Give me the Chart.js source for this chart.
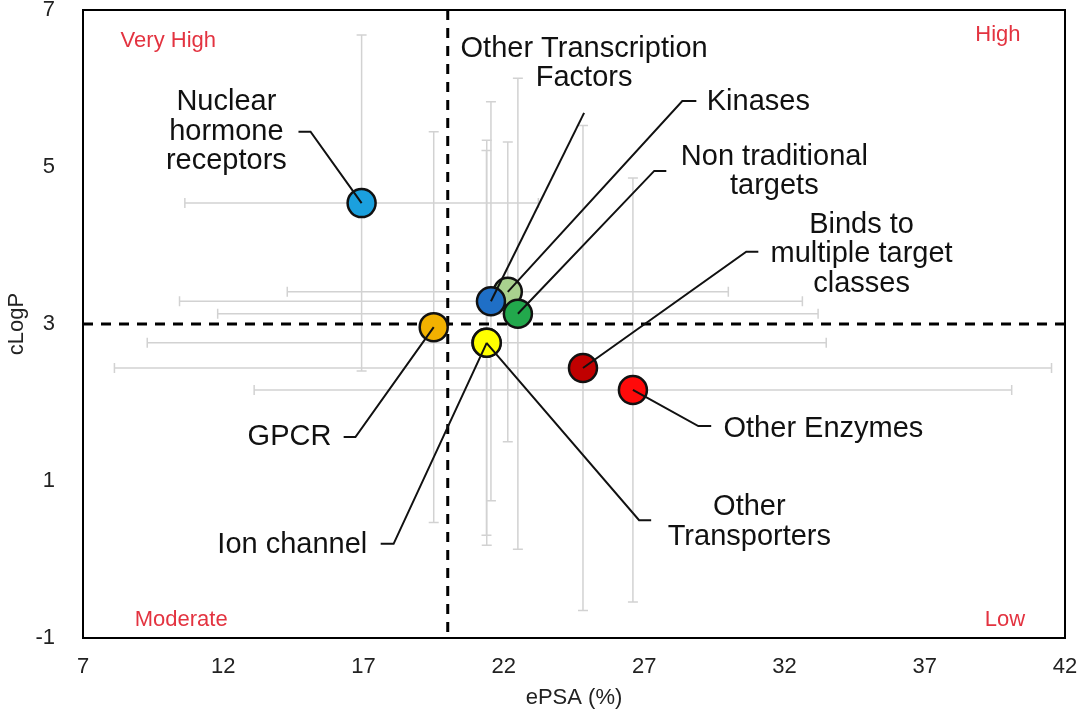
<!DOCTYPE html>
<html>

<head>
    <meta charset="utf-8" />
    <style>
        body { margin: 0; background: #fff; }
        #wrap { position: relative; width: 1080px; height: 715px; }
    </style>
</head>

<body>
    <div id="wrap"><canvas id="psaChart" width="1080" height="715"></canvas></div>

    <script src="https://cdn.jsdelivr.net/npm/chart.js@4.4.1/dist/chart.umd.min.js"></script>

    <script>
        // target classes, drawn in this order (later ones sit on top)
        let categories = ["Nuclear hormone receptors", "GPCR", "Kinases", "Other Transcription Factors",
            "Non traditional targets", "Binds to multiple target classes", "Other Enzymes",
            "Other Transporters", "Ion channel"];
        let epsa = [16.93, 19.5, 22.14, 21.54, 22.5, 24.82, 26.6, 21.38, 21.39];
        let clogp = [4.54, 2.96, 3.41, 3.29, 3.13, 2.44, 2.16, 2.76, 2.76];
        let epsaErr = [6.3, 0.5, 7.86, 11.1, 10.7, 16.7, 13.5, 0.5, 12.1];
        let clogpErr = [2.14, 2.49, 1.91, 2.54, 3.0, 3.09, 2.7, 2.45, 2.58];
        let xTicks = [7, 12, 17, 22, 27, 32, 37, 42];
        let yTicks = [-1, 1, 3, 5, 7];
        let ePSACut = 20;
        let cLogPCut = 3;

        let pointColors = ["#1ba0de", "#f2b100", "#a9d18e", "#1f6fc6", "#22a84c", "#c00000", "#ff0a0a", "#ffff00", "#ffff00"];

        // label blocks: text lines, centre of block (data units), leader path (data units) ending at the point
        let labelBoxes = [
            { i: 0, lines: ["Nuclear", "hormone", "receptors"], at: [12.11, 5.45], path: [[14.68, 5.45], [15.11, 5.45]] },
            { i: 3, lines: ["Other Transcription", "Factors"], at: [24.86, 6.32], path: [[24.86, 5.69]] },
            { i: 2, lines: ["Kinases"], at: [31.07, 5.83], path: [[28.86, 5.84], [28.36, 5.84]] },
            { i: 4, lines: ["Non traditional", "targets"], at: [31.64, 4.94], path: [[27.79, 4.95], [27.36, 4.95]] },
            { i: 5, lines: ["Binds to", "multiple target", "classes"], at: [34.75, 3.89], path: [[31.07, 3.92], [30.64, 3.92]] },
            { i: 6, lines: ["Other Enzymes"], at: [33.39, 1.66], path: [[29.39, 1.70], [28.93, 1.70]] },
            { i: 7, lines: ["Other", "Transporters"], at: [30.75, 0.48], path: [[27.25, 0.50], [26.82, 0.50]] },
            { i: 8, lines: ["Ion channel"], at: [14.46, 0.19], path: [[17.61, 0.20], [18.07, 0.20]] },
            { i: 1, lines: ["GPCR"], at: [14.36, 1.56], path: [[16.29, 1.56], [16.71, 1.56]] }
        ];

        let quadrants = [
            { text: "Very High", at: [10.04, 6.61] },
            { text: "High", at: [39.61, 6.68] },
            { text: "Moderate", at: [10.5, -0.77] },
            { text: "Low", at: [39.86, -0.77] }
        ];

        let fontName = "'Liberation Sans', Arial, sans-serif";

        let backdrop = {
            id: 'backdrop',
            beforeDatasetsDraw(chart) {
                let ctx = chart.ctx;
                let xs = chart.scales.x, ys = chart.scales.y;
                let area = chart.chartArea;
                ctx.save();

                // error bars
                ctx.strokeStyle = '#d2d2d2';
                ctx.lineWidth = 1.5;
                for (let k = 0; k < epsa.length; k++) {
                    let cx = xs.getPixelForValue(epsa[k]);
                    let cy = ys.getPixelForValue(clogp[k]);
                    let x0 = xs.getPixelForValue(epsa[k] - epsaErr[k]);
                    let x1 = xs.getPixelForValue(epsa[k] + epsaErr[k]);
                    let y0 = ys.getPixelForValue(clogp[k] + clogpErr[k]);
                    let y1 = ys.getPixelForValue(clogp[k] - clogpErr[k]);
                    ctx.beginPath();
                    ctx.moveTo(x0, cy); ctx.lineTo(x1, cy);
                    ctx.moveTo(x0, cy - 5); ctx.lineTo(x0, cy + 5);
                    ctx.moveTo(x1, cy - 5); ctx.lineTo(x1, cy + 5);
                    ctx.moveTo(cx, y0); ctx.lineTo(cx, y1);
                    ctx.moveTo(cx - 5, y0); ctx.lineTo(cx + 5, y0);
                    ctx.moveTo(cx - 5, y1); ctx.lineTo(cx + 5, y1);
                    ctx.stroke();
                }

                // quadrant cut lines
                ctx.strokeStyle = '#000';
                ctx.lineWidth = 3;
                ctx.setLineDash([10, 8]);
                let vx = xs.getPixelForValue(ePSACut);
                let hy = ys.getPixelForValue(cLogPCut);
                ctx.beginPath();
                ctx.moveTo(vx, area.top); ctx.lineTo(vx, area.bottom);
                ctx.moveTo(area.left, hy); ctx.lineTo(area.right, hy);
                ctx.stroke();
                ctx.setLineDash([]);

                // frame
                ctx.lineWidth = 2;
                ctx.strokeRect(area.left, area.top, area.right - area.left, area.bottom - area.top);

                // quadrant names
                ctx.fillStyle = '#e33340';
                ctx.font = '22px ' + fontName;
                ctx.textAlign = 'center';
                ctx.textBaseline = 'middle';
                quadrants.forEach(q => {
                    ctx.fillText(q.text, xs.getPixelForValue(q.at[0]), ys.getPixelForValue(q.at[1]));
                });
                ctx.restore();
            },
            afterDatasetsDraw(chart) {
                let ctx = chart.ctx;
                let xs = chart.scales.x, ys = chart.scales.y;
                ctx.save();
                ctx.strokeStyle = '#111';
                ctx.lineWidth = 2;
                ctx.fillStyle = '#111';
                ctx.font = '29px ' + fontName;
                ctx.textAlign = 'center';
                ctx.textBaseline = 'middle';
                labelBoxes.forEach(b => {
                    ctx.beginPath();
                    b.path.forEach((p, n) => {
                        let px = xs.getPixelForValue(p[0]), py = ys.getPixelForValue(p[1]);
                        if (n == 0) ctx.moveTo(px, py); else ctx.lineTo(px, py);
                    });
                    ctx.lineTo(xs.getPixelForValue(epsa[b.i]), ys.getPixelForValue(clogp[b.i]));
                    ctx.stroke();

                    let tx = xs.getPixelForValue(b.at[0]);
                    let ty = ys.getPixelForValue(b.at[1]) - (b.lines.length - 1) * 29.5 / 2;
                    b.lines.forEach((line, n) => {
                        ctx.fillText(line, tx, ty + n * 29.5);
                    });
                });
                ctx.restore();
            }
        };

        let chartCtx = document.getElementById('psaChart');
        let psaChart = new Chart(chartCtx, {
            type: 'scatter',
            data: {
                datasets: [{
                    label: 'target classes',
                    data: epsa.map((v, k) => ({ x: v, y: clogp[k] })),
                    pointBackgroundColor: pointColors,
                    pointBorderColor: '#111',
                    pointBorderWidth: 2.5,
                    pointRadius: 14,
                    pointHoverRadius: 14
                }]
            },
            options: {
                responsive: false,
                animation: false,
                layout: { autoPadding: false, padding: { top: 10, right: 15, left: 0, bottom: 0 } },
                plugins: {
                    legend: { display: false },
                    tooltip: { enabled: false }
                },
                scales: {
                    x: {
                        type: 'linear',
                        min: 7,
                        max: 42,
                        afterBuildTicks: (scale) => { scale.ticks = xTicks.map(v => ({ value: v })); },
                        afterFit: (scale) => { scale.height = 77; scale.paddingLeft = 0; scale.paddingRight = 0; },
                        grid: { display: false },
                        border: { display: false },
                        ticks: { color: '#222', padding: 8, font: { size: 22, family: fontName } },
                        title: { display: true, text: 'ePSA (%)', color: '#222', padding: { top: 8 }, font: { size: 22, family: fontName } }
                    },
                    y: {
                        type: 'linear',
                        min: -1,
                        max: 7,
                        afterBuildTicks: (scale) => { scale.ticks = yTicks.map(v => ({ value: v })); },
                        afterFit: (scale) => { scale.width = 83; scale.paddingTop = 0; scale.paddingBottom = 0; },
                        grid: { display: false },
                        border: { display: false },
                        ticks: { color: '#222', padding: 20, font: { size: 22, family: fontName } },
                        title: { display: true, text: 'cLogP', color: '#222', padding: { bottom: 0 }, font: { size: 22, family: fontName } }
                    }
                }
            },
            plugins: [backdrop]
        });
    </script>
</body>

</html>
